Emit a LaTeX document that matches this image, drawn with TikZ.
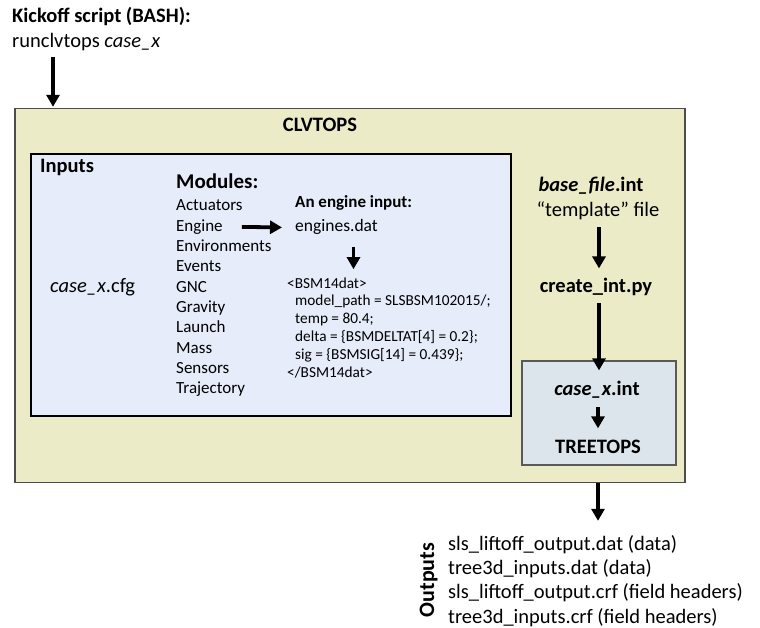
\documentclass[tikz,border=0pt]{standalone}
\usepackage{fontspec}
\setmainfont{Carlito}
\usetikzlibrary{arrows.meta,calc}
\definecolor{olivebg}{HTML}{EBEBC8}
\definecolor{inbg}{HTML}{E6ECFA}
\definecolor{treebg}{HTML}{DCE5EC}
\begin{document}
\begin{tikzpicture}[x=1pt,y=-1pt,
  arr/.style={line width=3.8pt,-{Triangle[width=13pt,length=12pt]}},
  txt/.style={inner sep=0pt,anchor=base west,font=\fontsize{20.5}{24}\selectfont},
  ctxt/.style={inner sep=0pt,anchor=base,font=\fontsize{20.5}{24}\selectfont},
  btxt/.style={font=\fontsize{20.5}{24}\selectfont\bfseries},
  modtxt/.style={inner sep=0pt,anchor=base west,font=\fontsize{17}{20}\selectfont},
  codetxt/.style={inner sep=0pt,anchor=base west,font=\fontsize{15.3}{18}\selectfont}]
\useasboundingbox (0,0) rectangle (760,628);
% boxes
\node[draw=black!70,line width=1.4pt,fill=olivebg,minimum width=670pt,minimum height=374pt,inner sep=0pt] (clvbox) at (350,295.5) {};
\node[draw=black,line width=1.2pt,fill=inbg,minimum width=480pt,minimum height=262pt,inner sep=0pt] (inbox) at (271,285) {};
\node[draw=black!65,line width=1.2pt,fill=treebg,minimum width=154pt,minimum height=104pt,inner sep=0pt] (treebox) at (599,413) {};
% kickoff
\node[txt,btxt] (kick1) at (12,23) {Kickoff script (BASH):};
\node[txt] (kick2) at (12,48) {runclvtops \textit{case\_x}};
\coordinate (kickx) at (53,0);
\draw[arr] ($(kick2.south -| kickx)+(0,6)$) -- ($(clvbox.north -| kickx)+(0,-1)$);
% clvtops
\node[ctxt,btxt] (clv) at (320,132) {CLVTOPS};
\node[txt,btxt] (inputs) at (40,173) {Inputs};
\node[txt,font=\fontsize{21}{24}\selectfont\bfseries] (modules) at (176,189) {Modules:};
\foreach \m [count=\i from 0] in {Actuators,Engine,Environments,Events,GNC,Gravity,Launch,Mass,Sensors,Trajectory}
  \node[modtxt] (mod\i) at (176,211+20.3*\i) {\m};
\node[txt] (cfg) at (50,292) {\textit{case\_x}.cfg};
\node[txt,font=\fontsize{17}{20}\selectfont\bfseries] (engin) at (295,208) {An engine input:};
\node[txt,font=\fontsize{17.5}{20}\selectfont] (engdat) at (295,232) {engines.dat};
\draw[arr] ($(mod1.east)+(19,0)$) -- ($(engdat.west)+(-13,0)$);
\node[codetxt] (c0) at (287,288) {<BSM14dat>};
\node[codetxt] (c1) at (295,305.8) {model\_path = SLSBSM102015/;};
\node[codetxt] (c2) at (295,323.6) {temp = 80.4;};
\node[codetxt] (c3) at (295,341.4) {delta = \{BSMDELTAT[4] = 0.2\};};
\node[codetxt] (c4) at (295,359.2) {sig = \{BSMSIG[14] = 0.439\};};
\node[codetxt] (c5) at (287,377) {</BSM14dat>};
\draw[arr] ($(engdat.south)+(17,11.5)$) -- ($(c0.north -| engdat.south)+(17,-8)$);
% right column
\node[ctxt,btxt] (base) at (591,192) {\textit{base\_file}.int};
\node[ctxt] (templ) at (598,217) {“template” file};
\node[ctxt,btxt] (create) at (596,292) {create\_int.py};
\node[ctxt,btxt] (caseint) at (597,395) {\textit{case\_x}.int};
\node[ctxt,btxt] (tree) at (598,453) {TREETOPS};
\draw[arr] ($(templ.south)+(1,6.5)$) -- ($(templ.south |- create.north)+(1,-9)$);
\draw[arr] ($(create.south -| treebox.north)+(0,7.5)$) -- ($(treebox.north)+(0,10)$);
\draw[arr] ($(caseint.south -| tree.north)+(0,9)$) -- ($(tree.north)+(0,-11)$);
% outputs
\node[inner sep=0pt,anchor=base,rotate=90,font=\fontsize{22}{24}\selectfont\bfseries] (outlbl) at (434,580) {Outputs};
\node[txt] (o1) at (448,550) {sls\_liftoff\_output.dat (data)};
\node[txt] (o2) at (448,574) {tree3d\_inputs.dat (data)};
\node[txt] (o3) at (448,598.5) {sls\_liftoff\_output.crf (field headers)};
\node[txt] (o4) at (448,623) {tree3d\_inputs.crf (field headers)};
\draw[arr] (clvbox.south -| tree.north) -- ($(o1.north -| tree.north)+(0,-14)$);
\end{tikzpicture}
\end{document}
